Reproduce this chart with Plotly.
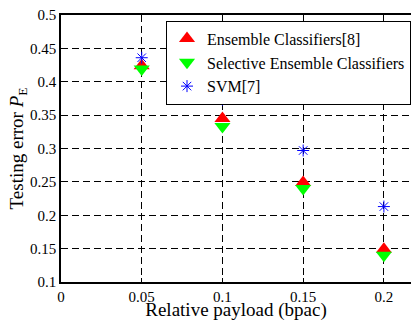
import plotly.graph_objects as go

payload = [0.05, 0.10, 0.15, 0.20]
ensemble = [0.424, 0.345, 0.249, 0.149]
selective = [0.419, 0.333, 0.240, 0.140]
svm = [0.436, 0.373, 0.297, 0.213]

x_ticks = [0, 0.05, 0.1, 0.15, 0.2]
x_ticklabels = ["0", "0.05", "0.1", "0.15", "0.2"]
y_ticks = [0.1, 0.15, 0.2, 0.25, 0.3, 0.35, 0.4, 0.45, 0.5]
y_ticklabels = ["0.1", "0.15", "0.2", "0.25", "0.3", "0.35", "0.4", "0.45", "0.5"]

FONT = "Liberation Serif, Times New Roman, serif"

fig = go.Figure()
fig.add_trace(go.Scatter(x=payload, y=ensemble, mode="markers", name="Ensemble Classifiers[8]",
                         marker=dict(symbol="triangle-up", size=14, color="#ff0000", line=dict(width=0))))
fig.add_trace(go.Scatter(x=payload, y=selective, mode="markers", name="Selective Ensemble Classifiers",
                         marker=dict(symbol="triangle-down", size=14, color="#00ff00", line=dict(width=0))))
fig.add_trace(go.Scatter(x=payload, y=svm, mode="markers", name="SVM[7]",
                         marker=dict(symbol="asterisk-open", size=10, color="#0000ff",
                                     line=dict(width=1, color="#0000ff"))))

fig.update_layout(
    width=411, height=321,
    margin=dict(l=61, r=0, t=15, b=39),
    paper_bgcolor="white", plot_bgcolor="white",
    font=dict(family=FONT, size=15, color="black"),
    showlegend=True,
    legend=dict(x=0.30, y=0.979, xanchor="left", yanchor="top",
                bordercolor="black", borderwidth=1, bgcolor="white",
                font=dict(family=FONT, size=16), tracegroupgap=0,
                itemwidth=30),
    xaxis=dict(range=[0, 0.2168], tickvals=x_ticks, ticktext=x_ticklabels,
               showgrid=True, gridcolor="black", griddash="7px,4px", gridwidth=1,
               showline=True, linecolor="black", linewidth=1.5, mirror="ticks",
               ticks="inside", ticklen=4, tickcolor="black",
               zeroline=False, tickfont=dict(size=15), automargin=False,
               title=dict(text="Relative payload (bpac)", font=dict(size=19), standoff=0)),
    yaxis=dict(range=[0.1, 0.5], tickvals=y_ticks, ticktext=y_ticklabels,
               showgrid=True, gridcolor="black", griddash="7px,4px", gridwidth=1,
               showline=True, linecolor="black", linewidth=1.5,
               ticks="inside", ticklen=4, tickcolor="black",
               zeroline=False, tickfont=dict(size=15), automargin=False,
               title=dict(text="Testing error <i>P</i><sub>E</sub>", font=dict(size=19), standoff=0)),
)

fig.write_html("out.html", config={"displayModeBar": False},
               post_script="document.body.style.margin='0';document.body.style.padding='0';")
